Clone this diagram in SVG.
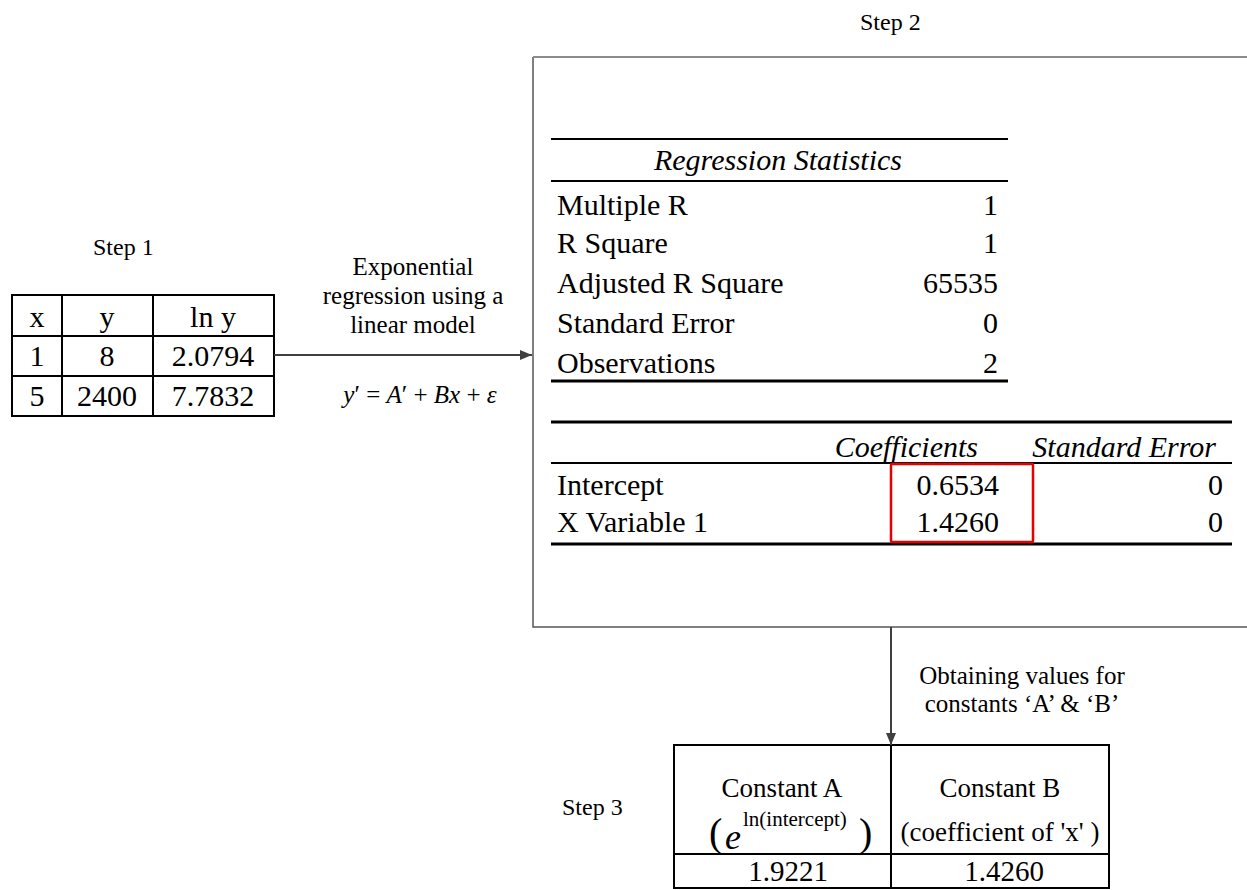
<svg xmlns="http://www.w3.org/2000/svg" width="1247" height="890" viewBox="0 0 1247 890">
  <defs>
    <marker id="arrow" viewBox="0 0 12 10" refX="12" refY="5" markerWidth="12" markerHeight="10" markerUnits="userSpaceOnUse" orient="auto">
      <path d="M0,0 L12,5 L0,10 Z" fill="#404040"/>
    </marker>
    <style>
      text { font-family: "Liberation Serif", "Times New Roman", serif; fill: #000; }
      .step { font-size: 24px; }
      .note { font-size: 25px; text-anchor: middle; }
      .cell { font-size: 30px; }
      .mid { text-anchor: middle; }
      .end { text-anchor: end; }
      .it { font-style: italic; }
      .grid { fill: none; stroke: #000; stroke-width: 2; }
      .rule { stroke: #000; stroke-width: 2; }
      .rule-b { stroke: #000; stroke-width: 3; }
      .conn { stroke: #404040; stroke-width: 2; fill: none; }
    </style>
  </defs>
  <rect width="1247" height="890" fill="#fff"/>

  <!-- Step labels -->
  <g id="labels">
    <text class="step" x="93" y="255">Step 1</text>
    <text class="step" x="860" y="30">Step 2</text>
    <text class="step" x="562" y="815">Step 3</text>
  </g>

  <!-- Step 1: input data table -->
  <g id="step1-table">
    <rect class="grid" x="12" y="295" width="262" height="121"/>
    <line class="rule" x1="62" y1="295" x2="62" y2="416"/>
    <line class="rule" x1="153" y1="295" x2="153" y2="416"/>
    <line class="rule" x1="12" y1="336" x2="274" y2="336"/>
    <line class="rule" x1="12" y1="376" x2="274" y2="376"/>
    <text class="cell mid" x="37" y="327">x</text>
    <text class="cell mid" x="107" y="327">y</text>
    <text class="cell mid" x="213" y="327">ln y</text>
    <text class="cell mid" x="37" y="366">1</text>
    <text class="cell mid" x="107" y="366">8</text>
    <text class="cell mid" x="213" y="366">2.0794</text>
    <text class="cell mid" x="37" y="406">5</text>
    <text class="cell mid" x="107" y="406">2400</text>
    <text class="cell mid" x="213" y="406">7.7832</text>
  </g>

  <!-- Step 2: regression output panel -->
  <g id="step2-panel">
    <path d="M1250,627 H533 V57" fill="none" stroke="#555" stroke-width="1.5"/>
    <line x1="533" y1="57" x2="1250" y2="57" stroke="#8c8c8c" stroke-width="2"/>

    <!-- regression statistics -->
    <line class="rule" x1="551" y1="139" x2="1008" y2="139"/>
    <line class="rule" x1="551" y1="181" x2="1008" y2="181"/>
    <line class="rule-b" x1="551" y1="381" x2="1008" y2="381"/>
    <text class="cell it mid" x="778" y="170">Regression Statistics</text>
    <text class="cell" x="557" y="215">Multiple R</text>
    <text class="cell end" x="998" y="215">1</text>
    <text class="cell" x="557" y="253">R Square</text>
    <text class="cell end" x="998" y="253">1</text>
    <text class="cell" x="557" y="293">Adjusted R Square</text>
    <text class="cell end" x="998" y="293">65535</text>
    <text class="cell" x="557" y="333">Standard Error</text>
    <text class="cell end" x="998" y="333">0</text>
    <text class="cell" x="557" y="373">Observations</text>
    <text class="cell end" x="998" y="373">2</text>

    <!-- coefficients -->
    <line class="rule-b" x1="551" y1="422" x2="1232" y2="422"/>
    <line class="rule" x1="551" y1="463" x2="1232" y2="463"/>
    <line class="rule-b" x1="551" y1="544" x2="1232" y2="544"/>
    <text class="cell it end" x="978" y="457">Coefficients</text>
    <text class="cell it end" x="1216" y="457">Standard Error</text>
    <text class="cell" x="557" y="495">Intercept</text>
    <text class="cell end" x="999" y="495">0.6534</text>
    <text class="cell end" x="1223" y="495">0</text>
    <text class="cell" x="557" y="532">X Variable 1</text>
    <text class="cell end" x="999" y="532">1.4260</text>
    <text class="cell end" x="1223" y="532">0</text>
    <rect x="891" y="464" width="142" height="78" fill="none" stroke="#e60000" stroke-width="2.5" rx="1"/>
  </g>

  <!-- Step 3: constants table -->
  <g id="step3-table">
    <rect class="grid" x="674" y="745" width="435" height="143"/>
    <line class="rule" x1="891" y1="745" x2="891" y2="888"/>
    <line class="rule" x1="674" y1="854" x2="1109" y2="854"/>
    <text class="mid" x="782" y="797" font-size="27">Constant A</text>
    <text x="709" y="846" font-size="40">(</text>
    <text x="725" y="849" font-size="36" font-style="italic">e</text>
    <text x="743" y="826" font-size="21">ln(intercept)</text>
    <text x="859" y="846" font-size="40">)</text>
    <text class="mid" x="1000" y="797" font-size="27">Constant B</text>
    <text class="mid" x="1000" y="841" font-size="27">(coefficient of 'x' )</text>
    <text class="mid" x="788" y="881" font-size="29">1.9221</text>
    <text class="mid" x="1004" y="881" font-size="29">1.4260</text>
  </g>

  <!-- Connectors and their annotations -->
  <g id="connectors">
    <line class="conn" x1="274" y1="355" x2="532" y2="355" marker-end="url(#arrow)"/>
    <line class="conn" x1="891" y1="627" x2="891" y2="745" marker-end="url(#arrow)"/>
  </g>
  <g id="connector-labels">
    <text class="note" x="413" y="275">Exponential</text>
    <text class="note" x="413" y="304">regression using a</text>
    <text class="note" x="413" y="333">linear model</text>
    <text class="note" x="420" y="403" font-size="27"><tspan class="it">y</tspan>′ = <tspan class="it">A</tspan>′ + <tspan class="it">Bx</tspan> + <tspan class="it">ε</tspan></text>
    <text class="note" x="1022" y="684">Obtaining values for</text>
    <text class="note" x="1022" y="712">constants ‘A’ &amp; ‘B’</text>
  </g>
</svg>
